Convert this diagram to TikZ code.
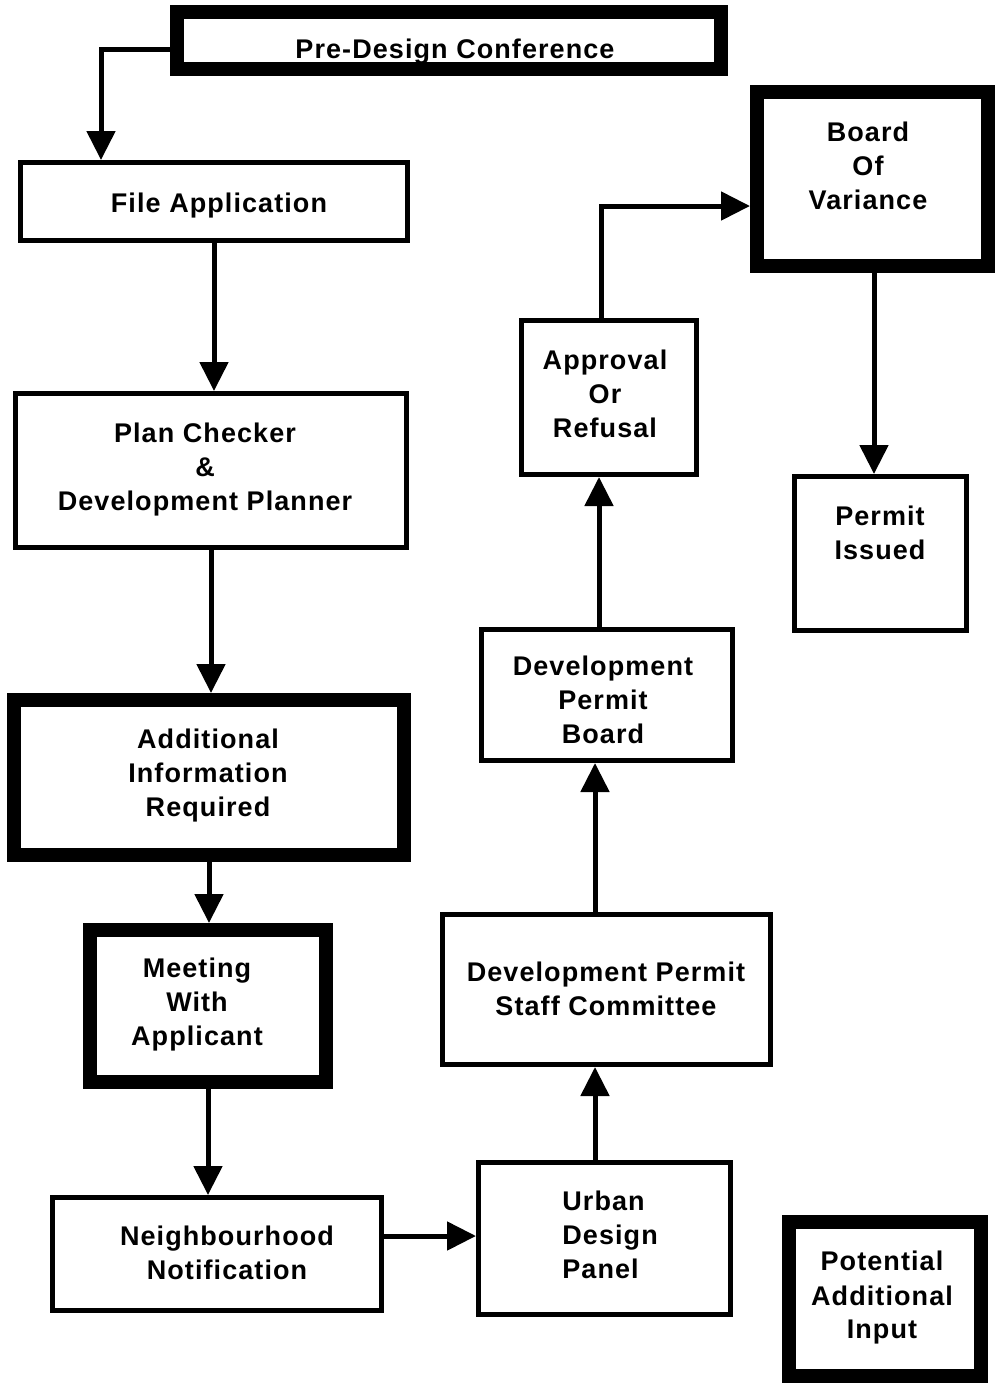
\documentclass[tikz,border=0pt]{standalone}
\usepackage{fontspec}
\newfontfamily\chartfont{Liberation Sans}[LetterSpace=4.0]
\usetikzlibrary{arrows.meta}

\begin{document}
\begin{tikzpicture}[x=0.5pt,y=-0.5pt,
  box/.style={draw, line width=2.5pt, inner sep=0pt},
  heavybox/.style={box, line width=7pt},
  lbl/.style={font={\chartfont\bfseries\fontsize{13.5pt}{17pt}\selectfont}, align=center, inner sep=0pt},
  arr/.style={line width=2.5pt, -{Triangle[length=14.5pt,width=14pt]}}]
\useasboundingbox (0,0) rectangle (996,1388);

% ---- boxes ----
\node[heavybox, minimum width=272pt,   minimum height=28.5pt] (pre) at (449,40.5) {};
\node[box,      minimum width=193.5pt, minimum height=39pt]   (fa)  at (214,201.5) {};
\node[box,      minimum width=195.5pt, minimum height=77pt]   (pc)  at (211,470.5) {};
\node[heavybox, minimum width=195pt,   minimum height=77.5pt] (ai)  at (209,777.5) {};
\node[heavybox, minimum width=118pt,   minimum height=76pt]   (mt)  at (208,1006) {};
\node[box,      minimum width=164.5pt, minimum height=56.5pt] (nn)  at (217,1254) {};
\node[box,      minimum width=126pt,   minimum height=76pt]   (ud)  at (604.5,1238.5) {};
\node[box,      minimum width=164pt,   minimum height=75pt]   (sc)  at (606.5,989.5) {};
\node[box,      minimum width=125.5pt, minimum height=65.5pt] (db)  at (607,695) {};
\node[box,      minimum width=87.5pt,  minimum height=77pt]   (ar)  at (609,397.5) {};
\node[heavybox, minimum width=115.5pt, minimum height=87pt]   (bv)  at (872.5,179) {};
\node[box,      minimum width=86pt,    minimum height=77pt]   (pi)  at (880.5,553.5) {};
\node[heavybox, minimum width=96pt,    minimum height=77pt]   (pa)  at (885,1299) {};

% ---- labels ----
\node[lbl] (tpre) at (455,52)    {Pre-Design Conference};
\node[lbl] (tfa)  at (219,205.5) {File Application};
\node[lbl] (tpc)  at (205,470)   {Plan Checker\\\&\\Development Planner};
\node[lbl] (tai)  at (208,776)   {Additional\\Information\\Required};
\node[lbl] (tmt)  at (197,1005)  {Meeting\\With\\Applicant};
\node[lbl] (tnn)  at (227,1253)  {Neighbourhood\\Notification};
\node[lbl, align=left, anchor=west] (tud) at (562,1235) {Urban\\Design\\Panel};
\node[lbl] (tsc)  at (606,989)   {Development Permit\\Staff Committee};
\node[lbl] (tdb)  at (603,700)   {Development\\Permit\\Board};
\node[lbl] (tar)  at (605,394)   {Approval\\Or\\Refusal};
\node[lbl] (tbv)  at (868,166)   {Board\\Of\\Variance};
\node[lbl] (tpi)  at (880,533)   {Permit\\Issued};
\node[lbl] (tpa)  at (882,1298)  {Potential\\Additional\\Input};

% ---- connectors ----
\coordinate (k1) at (101,49);
\draw[arr] (k1 -| pre.west) -- (k1) -- (k1 |- fa.north);
\draw[arr] (fa.south) -- (fa.south |- pc.north);
\draw[arr] (pc.south) -- (pc.south |- ai.north);
\draw[arr] (ai.south) -- (ai.south |- mt.north);
\draw[arr] (mt.south) -- (mt.south |- nn.north);
\coordinate (k2) at (430,1236);
\draw[arr] (k2 -| nn.east) -- (k2 -| ud.west);
\coordinate (k3) at (595,1110);
\draw[arr] (k3 |- ud.north) -- (k3 |- sc.south);
\coordinate (k4) at (595,840);
\draw[arr] (k4 |- sc.north) -- (k4 |- db.south);
\coordinate (k5) at (599,550);
\draw[arr] (k5 |- db.north) -- (k5 |- ar.south);
\coordinate (k6) at (601,206);
\draw[arr] (k6 |- ar.north) -- (k6) -- (k6 -| bv.west);
\coordinate (k7) at (874,370);
\draw[arr] (k7 |- bv.south) -- (k7 |- pi.north);
\end{tikzpicture}
\end{document}
